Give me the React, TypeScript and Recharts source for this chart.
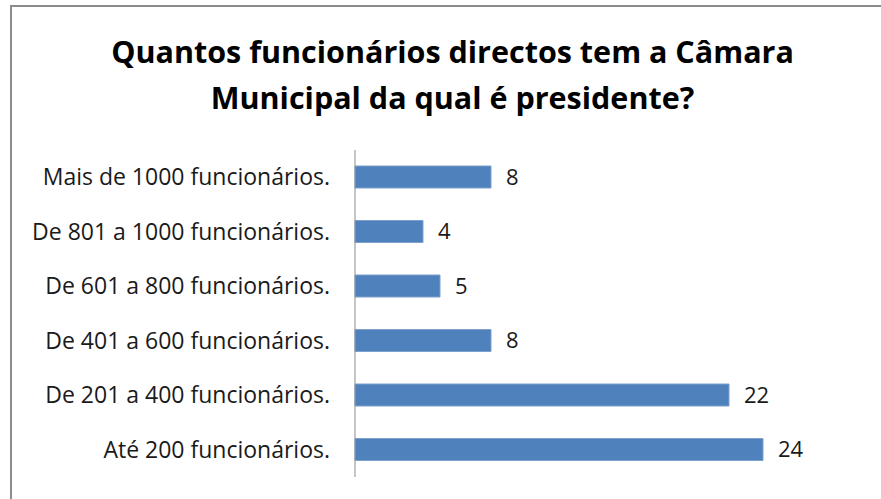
import React from "react";
import { BarChart, Bar, XAxis, YAxis, LabelList } from "recharts";

const categories = [
  "Mais de 1000 funcionários.",
  "De 801 a 1000 funcionários.",
  "De 601 a 800 funcionários.",
  "De 401 a 600 funcionários.",
  "De 201 a 400 funcionários.",
  "Até 200 funcionários.",
];
const counts = [8, 4, 5, 8, 22, 24];

const data = categories.map((name, i) => ({ name, value: counts[i] }));

const FONT = "'Open Sans', Lato, sans-serif";

export default function App() {
  return (
    <div
      style={{
        position: "fixed",
        left: 0,
        top: 0,
        width: 881,
        height: 499,
        background: "#fff",
        overflow: "hidden",
        fontFamily: FONT,
      }}
    >
      <div
        style={{
          position: "absolute",
          left: 10,
          top: 5,
          width: 900,
          height: 520,
          borderTop: "2px solid #8c8c8c",
          borderLeft: "2px solid #8c8c8c",
        }}
      />
      <div
        style={{
          position: "absolute",
          left: 12,
          top: 28,
          width: 881,
          textAlign: "center",
          fontWeight: 700,
          fontSize: 30.5,
          lineHeight: "46px",
          color: "#000",
        }}
      >
        Quantos funcionários directos tem a Câmara
        <br />
        Municipal da qual é presidente?
      </div>
      <div style={{ position: "absolute", left: 0, top: 0 }}>
        <BarChart
          width={881}
          height={499}
          data={data}
          layout="vertical"
          margin={{ top: 150, right: 118, bottom: 22, left: 0 }}
          barCategoryGap={0}
        >
          <XAxis type="number" domain={[0, 24]} hide />
          <YAxis
            type="category"
            dataKey="name"
            width={355}
            tickLine={false}
            tickSize={0}
            tickMargin={25}
            axisLine={{ stroke: "#8c8c8c", strokeWidth: 1 }}
            tick={{ fontSize: 23, fill: "#1a1a1a", fontFamily: FONT }}
          />
          <Bar
            dataKey="value"
            fill="#4f81bd"
            stroke="#7da0cc"
            strokeWidth={1}
            barSize={22}
            isAnimationActive={false}
          >
            <LabelList
              dataKey="value"
              position="right"
              offset={15}
              fill="#1a1a1a"
              fontSize={22}
              fontFamily={FONT}
            />
          </Bar>
        </BarChart>
      </div>
    </div>
  );
}
